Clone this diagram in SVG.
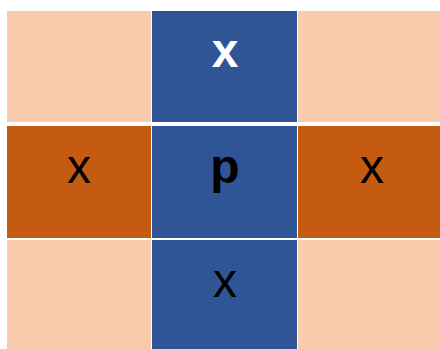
<svg xmlns="http://www.w3.org/2000/svg" width="440" height="349" viewBox="0 0 440 349">
<style>
.peach{fill:#F8CBAD}
.blue{fill:#2F5597}
.orange{fill:#C55A11}
text{font-family:"Liberation Sans",Arial,sans-serif;font-size:48px;text-anchor:middle}
.w{fill:#FFFFFF;font-weight:bold}
.k{fill:#000000}
.b{font-weight:bold}
</style>
<rect width="440" height="349" fill="#FFFFFF"/>
<g id="r1c1"><rect class="peach" x="7" y="11" width="144" height="111"/></g>
<g id="r1c2"><rect class="blue" x="152" y="11" width="145" height="111"/><text class="w" x="225" y="67">x</text></g>
<g id="r1c3"><rect class="peach" x="298" y="11" width="142" height="111"/></g>
<g id="r2c1"><rect class="orange" x="7" y="126" width="144" height="112"/><text class="k" x="79" y="183">x</text></g>
<g id="r2c2"><rect class="blue" x="152" y="126" width="145" height="112"/><text class="k b" x="225" y="183">p</text></g>
<g id="r2c3"><rect class="orange" x="298" y="126" width="142" height="112"/><text class="k" x="372" y="183">x</text></g>
<g id="r3c1"><rect class="peach" x="7" y="240" width="144" height="109"/></g>
<g id="r3c2"><rect class="blue" x="152" y="240" width="145" height="109"/><text class="k" x="225" y="297">x</text></g>
<g id="r3c3"><rect class="peach" x="298" y="240" width="142" height="109"/></g>
<g id="connectors"></g>
</svg>
